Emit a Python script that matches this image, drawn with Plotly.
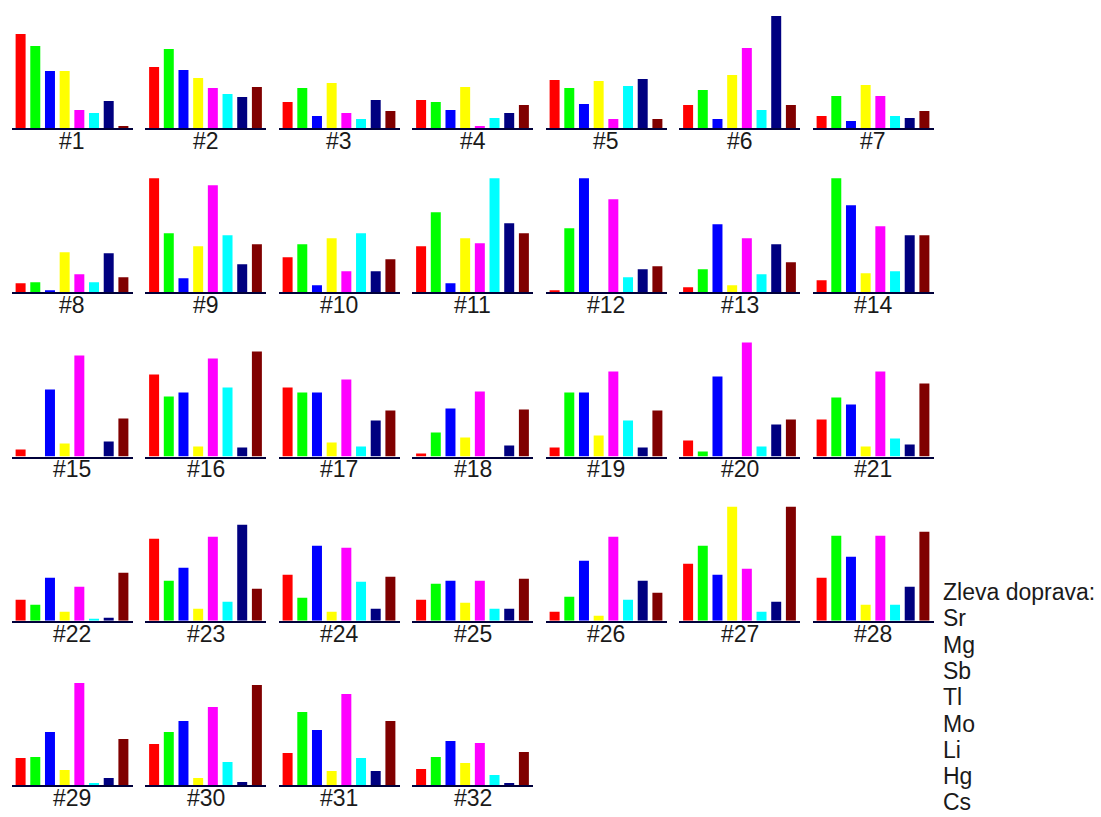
import plotly.graph_objects as go

# Element order (left to right within each panel)
ELEMENTS = ["Sr", "Mg", "Sb", "Tl", "Mo", "Li", "Hg", "Cs"]
COLORS = ["#FF0000", "#00FF00", "#0000FF", "#FFFF00", "#FF00FF", "#00FFFF", "#000080", "#800000"]
SAMPLE_LABELS = ["#%d" % i for i in range(1, 33)]

# Relative heights per element for samples #1..#32
SR = [94, 61, 26, 28, 48, 23, 12, 9, 114, 35, 46, 2, 5, 12, 7, 82, 69, 3, 9, 16, 37, 21, 82, 46, 21, 9, 57, 43, 27, 41, 32, 16]
MG = [82, 79, 40, 26, 40, 38, 32, 10, 59, 48, 80, 64, 23, 114, 0, 60, 64, 24, 64, 5, 59, 16, 40, 23, 37, 24, 75, 85, 28, 53, 73, 28]
SB = [57, 58, 12, 18, 24, 9, 7, 2, 14, 7, 9, 114, 68, 87, 67, 64, 64, 48, 64, 80, 52, 43, 53, 75, 40, 60, 46, 64, 53, 64, 55, 44]
TL = [57, 50, 45, 41, 47, 53, 43, 40, 46, 54, 54, 0, 7, 19, 13, 10, 14, 19, 21, 0, 10, 9, 12, 9, 18, 5, 114, 16, 15, 7, 14, 22]
MO = [18, 40, 15, 2, 9, 80, 32, 18, 107, 21, 49, 93, 54, 66, 101, 98, 77, 65, 85, 114, 85, 34, 84, 73, 40, 84, 52, 85, 102, 78, 91, 42]
LI = [15, 34, 9, 10, 42, 18, 12, 10, 57, 59, 114, 15, 18, 21, 0, 69, 10, 0, 36, 10, 18, 2, 19, 39, 12, 21, 9, 16, 2, 23, 27, 10]
HG = [27, 31, 28, 15, 49, 112, 10, 39, 28, 21, 69, 23, 48, 57, 15, 9, 36, 11, 9, 32, 12, 3, 96, 12, 12, 40, 19, 34, 7, 3, 14, 2]
CS = [2, 41, 17, 23, 9, 23, 17, 15, 48, 33, 59, 26, 30, 57, 38, 105, 46, 47, 46, 37, 73, 48, 32, 44, 42, 28, 114, 89, 46, 100, 64, 33]

LEGEND_TITLE = "Zleva doprava:"

SERIES = [SR, MG, SB, TL, MO, LI, HG, CS]

W, H = 1101, 817
NCOLS = 7
COL_X0, COL_PITCH, PANEL_W = 11.5, 133.5, 121.0
ROW_BASE0, ROW_PITCH, PANEL_H = 128.0, 164.25, 116.0
YMAX = 116.0
FONT = "Arial, Liberation Sans, sans-serif"

fig = go.Figure()
annotations = []
layout_axes = {}

for i in range(len(SAMPLE_LABELS)):
    r, c = divmod(i, NCOLS)
    x0 = COL_X0 + c * COL_PITCH
    x1 = x0 + PANEL_W
    base = ROW_BASE0 + r * ROW_PITCH
    top = base - PANEL_H
    n = i + 1
    xa = "x" if n == 1 else "x%d" % n
    ya = "y" if n == 1 else "y%d" % n
    vals = [s[i] for s in SERIES]
    fig.add_trace(go.Bar(
        x=ELEMENTS, y=vals, marker=dict(color=COLORS, line=dict(width=0)),
        width=0.68, xaxis=xa, yaxis=ya, showlegend=False, hoverinfo="x+y",
    ))
    xkey = "xaxis" if n == 1 else "xaxis%d" % n
    ykey = "yaxis" if n == 1 else "yaxis%d" % n
    layout_axes[xkey] = dict(
        domain=[x0 / W, x1 / W], anchor=ya, range=[-0.62, 7.62],
        showticklabels=False, ticks="", showgrid=False, zeroline=False,
        showline=True, linecolor="#00003a", linewidth=2, fixedrange=True,
    )
    layout_axes[ykey] = dict(
        domain=[1 - base / H, 1 - top / H], anchor=xa, range=[0, YMAX],
        visible=False, showgrid=False, zeroline=False, fixedrange=True,
    )
    annotations.append(dict(
        text=SAMPLE_LABELS[i], xref="paper", yref="paper",
        x=(x0 + x1) / 2 / W, y=1 - (base - 1) / H,
        xanchor="center", yanchor="top", showarrow=False, borderpad=0,
        font=dict(family=FONT, size=23, color="#1a1a1a"),
    ))

legend_lines = [LEGEND_TITLE] + ELEMENTS
for k, t in enumerate(legend_lines):
    yc = 592 + k * 26.3
    annotations.append(dict(
        text=t, xref="paper", yref="paper", x=942 / W, y=1 - yc / H,
        xanchor="left", yanchor="middle", showarrow=False, borderpad=0,
        font=dict(family=FONT, size=23, color="#1a1a1a"),
    ))

fig.update_layout(
    width=W, height=H, margin=dict(l=0, r=0, t=0, b=0),
    paper_bgcolor="white", plot_bgcolor="white",
    annotations=annotations, bargap=0.3, **layout_axes,
)

fig.write_html("out.html", config={"displayModeBar": False})
